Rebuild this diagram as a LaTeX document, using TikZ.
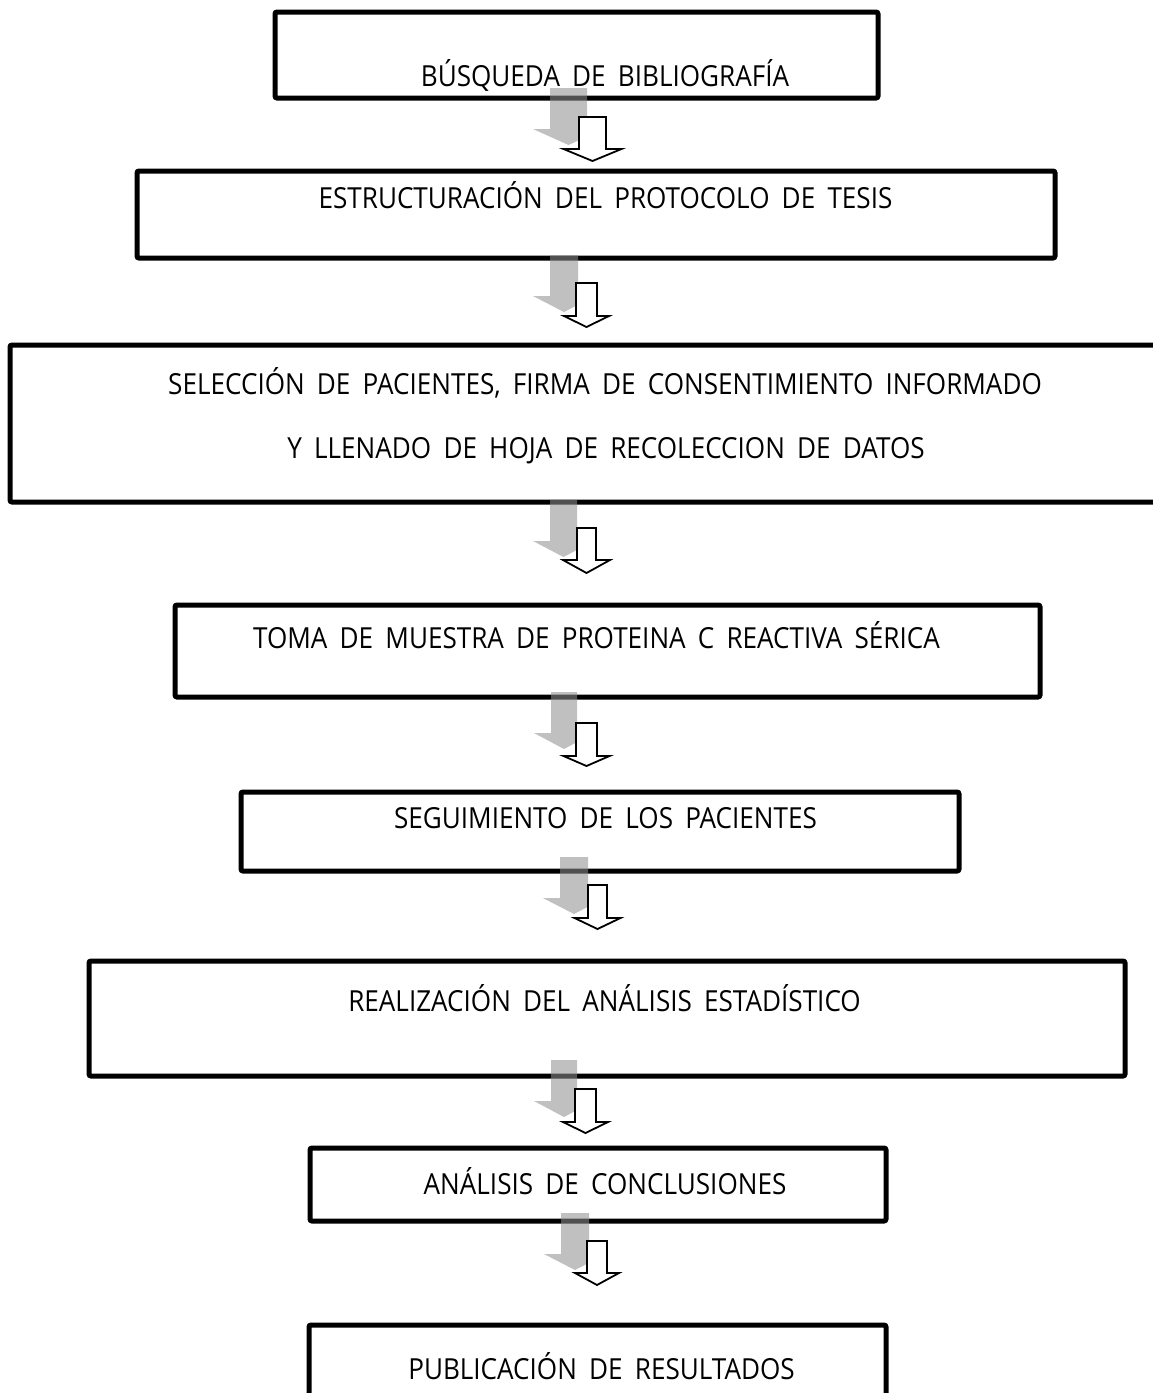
\documentclass[tikz,border=0pt]{standalone}
\usepackage{fontspec}
\setmainfont{Open Sans}[WordSpace=1.8, FakeStretch=0.9]
\tikzset{
  box/.style={draw=black, line width=5pt, rounded corners=2pt, inner sep=0pt},
  lbl/.style={anchor=base, inner sep=0pt, font=\fontsize{29pt}{34pt}\selectfont},
  shadowarrow/.style={fill=black!44, fill opacity=0.56, draw=none},
  whitearrow/.style={fill=white, draw=black, line width=1.8pt, line join=miter}
}
% #1 gL  #2 gR  #3 T  #4 wL  #5 wR  #6 Wt  #7 half head width  #8 head base  #9 tip
\newcommand{\flecha}[9]{%
  \pgfmathsetmacro{\gm}{(#1+#2)/2}%
  \pgfmathsetmacro{\wc}{(#4+#5)/2}%
  \fill[shadowarrow] (#1,#3) -- (#2,#3) -- (#2,{#3+41}) -- ({#2+17},{#3+41})
     -- (\gm,{#3+57}) -- ({#1-17},{#3+41}) -- (#1,{#3+41}) -- cycle;
  \draw[whitearrow] (#4,#6) -- (#5,#6) -- (#5,#8) -- ({\wc+#7},#8)
     -- (\wc,#9) -- ({\wc-#7},#8) -- (#4,#8) -- cycle;
}
\begin{document}
\begin{tikzpicture}[x=1pt,y=-1pt]
\useasboundingbox[fill=white] (0,0) rectangle (1153,1393);

\node[box, minimum width=603pt, minimum height=86pt] (b1) at (576.5,55) {};
\node[box, minimum width=918pt, minimum height=87pt] (b2) at (596,214.5) {};
\node[box, minimum width=1155pt, minimum height=157pt] (b3) at (587.5,423.5) {};
\node[box, minimum width=865pt, minimum height=92pt] (b4) at (607.5,651) {};
\node[box, minimum width=718pt, minimum height=79pt] (b5) at (600,831.5) {};
\node[box, minimum width=1036pt, minimum height=115pt] (b6) at (607,1018.5) {};
\node[box, minimum width=576pt, minimum height=73pt] (b7) at (598,1184.5) {};
\node[box, minimum width=577pt, minimum height=95pt] (b8) at (597.5,1372.5) {};

\node[lbl] (t1) at (605,86) {BÚSQUEDA DE BIBLIOGRAFÍA};
\node[lbl] (t2) at (605.5,208) {ESTRUCTURACIÓN DEL PROTOCOLO DE TESIS};
\node[lbl] (t3a) at (605,394) {SELECCIÓN DE PACIENTES, FIRMA DE CONSENTIMIENTO INFORMADO};
\node[lbl] (t3b) at (606,458) {Y LLENADO DE HOJA DE RECOLECCION DE DATOS};
\node[lbl] (t4) at (596.5,648) {TOMA DE MUESTRA DE PROTEINA C REACTIVA SÉRICA};
\node[lbl] (t5) at (605.5,828) {SEGUIMIENTO DE LOS PACIENTES};
\node[lbl] (t6) at (604.5,1011) {REALIZACIÓN DEL ANÁLISIS ESTADÍSTICO};
\node[lbl] (t7) at (605,1194) {ANÁLISIS DE CONCLUSIONES};
\node[lbl] (t8) at (601.5,1379) {PUBLICACIÓN DE RESULTADOS};

\flecha{550}{587}{88}{579}{606}{117}{29}{149}{161}
\flecha{550}{578}{255}{576}{597}{283}{22.5}{316}{327}
\flecha{550}{577}{500}{577}{596}{528}{23.5}{560}{573}
\flecha{551}{577}{692}{576}{597}{723}{23}{756}{766}
\flecha{560}{588}{857}{588}{607}{885}{23}{918}{929}
\flecha{551}{577}{1060}{575}{596}{1089}{22.5}{1122}{1133}
\flecha{561}{589}{1213}{587}{607}{1241}{22}{1273}{1285}
\end{tikzpicture}
\end{document}
